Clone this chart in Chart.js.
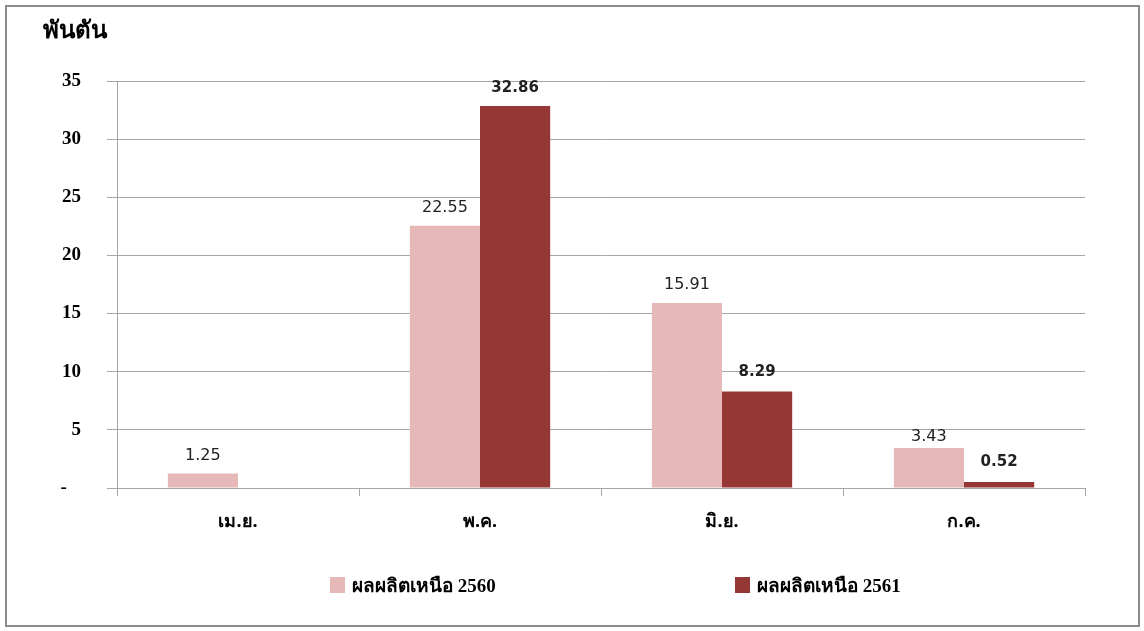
<!DOCTYPE html>
<html>
<head>
<meta charset="utf-8">
<script src="https://cdn.jsdelivr.net/npm/chart.js@4/dist/chart.umd.min.js"></script>
<style>
  body { margin: 0; background: #fff; }
  #frame { position: absolute; left: 5px; top: 5px; width: 1131px; height: 618px; border: 2px solid #8c8c8c; }
  #wrap { position: absolute; left: 0; top: 0; width: 1131px; height: 618px; }
  .legend-item { position: absolute; top: 563px; display: flex; align-items: center;
    font: bold 19px "Liberation Serif", serif; color: #000; white-space: nowrap; }
  .legend-box { width: 15px; height: 16px; margin-right: 7px; }
</style>
</head>
<body>
<div id="frame">
  <div id="wrap"><canvas id="chart"></canvas></div>
  <div id="legend"></div>
</div>
<script>
const categories = ['เม.ย.', 'พ.ค.', 'มิ.ย.', 'ก.ค.'];
const seriesNames = ['ผลผลิตเหนือ 2560', 'ผลผลิตเหนือ 2561'];
const output2560 = [1.25, 22.55, 15.91, 3.43];
const output2561 = [null, 32.86, 8.29, 0.52];
const yTicks = [0, 5, 10, 15, 20, 25, 30, 35];

const colors = ['#e6b9b8', '#953735'];
const gridColor = '#a6a6a6';

// value labels above each bar (no datalabels plugin offline)
const valueLabels = {
  id: 'valueLabels',
  afterDatasetsDraw(chart, args, opts) {
    const ctx = chart.ctx;
    chart.data.datasets.forEach((ds, i) => {
      const meta = chart.getDatasetMeta(i);
      meta.data.forEach((bar, j) => {
        const v = ds.data[j];
        if (v == null) return;
        const lift = (opts.lift[i] && opts.lift[i][j]) || 18;
        ctx.save();
        ctx.font = i === 1 ? 'bold 15px "DejaVu Sans"' : '16px "DejaVu Sans"';
        ctx.fillStyle = '#222';
        ctx.textAlign = 'center';
        ctx.textBaseline = 'middle';
        ctx.fillText(v.toFixed(2), bar.x, bar.y - lift);
        ctx.restore();
      });
    });
  }
};

new Chart(document.getElementById('chart'), {
  type: 'bar',
  data: {
    labels: categories,
    datasets: [
      { label: seriesNames[0], data: output2560, backgroundColor: colors[0] },
      { label: seriesNames[1], data: output2561, backgroundColor: colors[1] },
    ],
  },
  options: {
    responsive: true,
    maintainAspectRatio: false,
    animation: false,
    categoryPercentage: 0.58,
    barPercentage: 1,
    layout: { padding: { left: 36, right: 53, top: 0, bottom: 92 } },
    plugins: {
      legend: { display: false },
      tooltip: { enabled: false },
      title: {
        display: true,
        text: 'พันตัน',
        align: 'start',
        color: '#000',
        font: { family: '"Liberation Serif", serif', size: 24, weight: 'bold' },
        padding: { top: 10, bottom: 35.2 },
      },
      valueLabels: { lift: [[18, 18, 18, 11], [18, 18, 19, 20]] },
    },
    scales: {
      x: {
        afterFit: (s) => { s.height = 45; },
        grid: { drawOnChartArea: false, tickLength: 8, color: gridColor },
        border: { display: true, color: gridColor },
        ticks: {
          padding: 15,
          color: '#000',
          font: { family: '"Noto Sans", sans-serif', size: 18, weight: 'bold' },
        },
      },
      y: {
        min: 0,
        max: 35,
        afterFit: (s) => { s.width = 74; },
        afterBuildTicks: (s) => { s.ticks = yTicks.map(v => ({ value: v })); },
        grid: { color: gridColor, tickLength: 10 },
        border: { display: true, color: gridColor },
        ticks: {
          padding: 26,
          color: '#000',
          font: { family: '"Liberation Serif", serif', size: 19, weight: 'bold' },
          callback: (v) => (v === 0 ? '-   ' : v),
        },
      },
    },
  },
  plugins: [valueLabels],
});

// html legend, built from the same series arrays
const legend = document.getElementById('legend');
const legendLeft = [323, 728];
seriesNames.forEach((name, i) => {
  const item = document.createElement('div');
  item.className = 'legend-item';
  item.style.left = legendLeft[i] + 'px';
  item.innerHTML = '<div class="legend-box" style="background:' + colors[i] + '"></div><span>' + name + '</span>';
  legend.appendChild(item);
});
</script>
</body>
</html>
